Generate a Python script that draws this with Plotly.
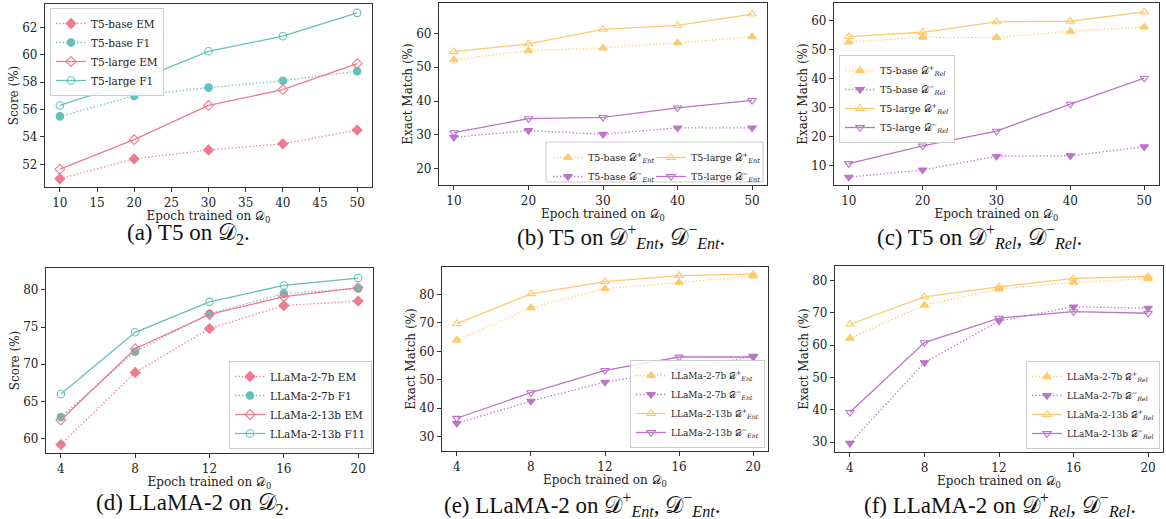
import plotly.graph_objects as go

W, H = 1166, 519

# ---------------- data ----------------
t5_epochs = [10, 20, 30, 40, 50]
llama_epochs = [4, 8, 12, 16, 20]

# (a) T5 on D2
t5_base_em = [50.95, 52.4, 53.05, 53.5, 54.5]
t5_base_f1 = [55.5, 57.0, 57.6, 58.1, 58.8]
t5_large_em = [51.65, 53.8, 56.3, 57.45, 59.35]
t5_large_f1 = [56.3, 58.05, 60.25, 61.35, 63.05]

# (b) T5 on D_Ent
t5_base_ent_pos = [52.2, 54.9, 55.7, 57.2, 59.0]
t5_base_ent_neg = [29.3, 31.3, 30.2, 32.1, 32.1]
t5_large_ent_pos = [54.6, 56.9, 61.2, 62.4, 65.7]
t5_large_ent_neg = [30.7, 34.8, 35.2, 38.0, 40.2]

# (c) T5 on D_Rel
t5_base_rel_pos = [52.7, 54.4, 54.3, 56.4, 57.9]
t5_base_rel_neg = [6.1, 8.6, 13.3, 13.5, 16.6]
t5_large_rel_pos = [54.6, 56.1, 59.7, 59.9, 63.1]
t5_large_rel_neg = [10.8, 16.9, 22.0, 31.3, 40.3]

# (d) LLaMA-2 on D2
ll7_em = [59.2, 68.9, 74.8, 77.9, 78.5]
ll7_f1 = [62.9, 71.7, 76.8, 79.5, 80.2]
ll13_em = [62.5, 72.1, 76.7, 79.1, 80.3]
ll13_f1 = [66.0, 74.3, 78.4, 80.6, 81.6]

# (e) LLaMA-2 on D_Ent
ll7_ent_pos = [63.9, 75.3, 82.0, 84.2, 86.4]
ll7_ent_neg = [34.7, 42.5, 49.2, 53.1, 58.3]
ll13_ent_pos = [69.7, 80.2, 84.5, 86.6, 87.1]
ll13_ent_neg = [36.5, 45.5, 53.3, 58.0, 58.0]

# (f) LLaMA-2 on D_Rel
ll7_rel_pos = [62.1, 72.4, 77.4, 79.5, 80.6]
ll7_rel_neg = [29.6, 54.6, 67.5, 71.9, 71.5]
ll13_rel_pos = [66.5, 75.0, 78.1, 80.7, 81.3]
ll13_rel_neg = [39.2, 60.8, 68.4, 70.4, 69.9]

PINK = "#EF7488"
TEAL = "#5CBDB9"
ORANGE = "#FFC766"
PURPLE = "#B96EC6"

D = "\U0001D49F"  # script D

def lab(base, sign, sub):
    return f"{base} {D}<sup>{sign}</sup><sub><i>{sub}</i></sub>"

fig = go.Figure()

# panel pixel boxes: (x0, x1, y0, y1) in px from top-left
boxes = {
    1: (45, 372, 4, 187),
    2: (439, 767, 3, 185),
    3: (834, 1159, 3, 185),
    4: (46, 373, 268, 453),
    5: (442, 768, 267, 451),
    6: (835, 1163, 266, 452),
}
ranges = {
    1: ([8, 52], [50.35, 63.7]),
    2: ([8, 52], [15.2, 69.0]),
    3: ([8, 52], [3.4, 66.2]),
    4: ([3.2, 20.8], [58.07, 82.95]),
    5: ([3.2, 20.8], [25.0, 89.6]),
    6: ([3.2, 20.8], [26.9, 84.55]),
}
ytitles = {1: "Score (%)", 2: "Exact Match (%)", 3: "Exact Match (%)",
           4: "Score (%)", 5: "Exact Match (%)", 6: "Exact Match (%)"}
ytickvals = {
    1: [52, 54, 56, 58, 60, 62],
    2: [20, 30, 40, 50, 60],
    3: [10, 20, 30, 40, 50, 60],
    4: [60, 65, 70, 75, 80],
    5: [30, 40, 50, 60, 70, 80],
    6: [30, 40, 50, 60, 70, 80],
}
xtickvals = {1: [10, 15, 20, 25, 30, 35, 40, 45, 50], 2: [10, 20, 30, 40, 50],
             3: [10, 20, 30, 40, 50], 4: [4, 8, 12, 16, 20],
             5: [4, 8, 12, 16, 20], 6: [4, 8, 12, 16, 20]}


def add(panel, x, y, name, color, symbol, dotted, legend):
    sfx = "" if panel == 1 else str(panel)
    fig.add_trace(go.Scatter(
        x=x, y=y, name=name, mode="lines+markers",
        xaxis="x" + sfx, yaxis="y" + sfx, legend=legend,
        line=dict(color=color, width=1.3, dash="1.3px,2.2px" if dotted else "solid"),
        marker=dict(symbol=symbol, size=7.5,
                    color=color, line=dict(color=color, width=1.1)),
        opacity=0.95,
    ))

add(1, t5_epochs, t5_base_em, "T5-base EM", PINK, "diamond", True, "legend")
add(1, t5_epochs, t5_base_f1, "T5-base F1", TEAL, "circle", True, "legend")
add(1, t5_epochs, t5_large_em, "T5-large EM", PINK, "diamond-open", False, "legend")
add(1, t5_epochs, t5_large_f1, "T5-large F1", TEAL, "circle-open", False, "legend")

add(2, t5_epochs, t5_base_ent_pos, lab("T5-base", "+", "Ent"), ORANGE, "triangle-up", True, "legend2")
add(2, t5_epochs, t5_base_ent_neg, lab("T5-base", "−", "Ent"), PURPLE, "triangle-down", True, "legend2")
add(2, t5_epochs, t5_large_ent_pos, lab("T5-large", "+", "Ent"), ORANGE, "triangle-up-open", False, "legend3")
add(2, t5_epochs, t5_large_ent_neg, lab("T5-large", "−", "Ent"), PURPLE, "triangle-down-open", False, "legend3")

add(3, t5_epochs, t5_base_rel_pos, lab("T5-base", "+", "Rel"), ORANGE, "triangle-up", True, "legend4")
add(3, t5_epochs, t5_base_rel_neg, lab("T5-base", "−", "Rel"), PURPLE, "triangle-down", True, "legend4")
add(3, t5_epochs, t5_large_rel_pos, lab("T5-large", "+", "Rel"), ORANGE, "triangle-up-open", False, "legend4")
add(3, t5_epochs, t5_large_rel_neg, lab("T5-large", "−", "Rel"), PURPLE, "triangle-down-open", False, "legend4")

add(4, llama_epochs, ll7_em, "LLaMa-2-7b EM", PINK, "diamond", True, "legend5")
add(4, llama_epochs, ll7_f1, "LLaMa-2-7b F1", TEAL, "circle", True, "legend5")
add(4, llama_epochs, ll13_em, "LLaMa-2-13b EM", PINK, "diamond-open", False, "legend5")
add(4, llama_epochs, ll13_f1, "LLaMa-2-13b F11", TEAL, "circle-open", False, "legend5")

add(5, llama_epochs, ll7_ent_pos, lab("LLaMa-2-7b", "+", "Ent"), ORANGE, "triangle-up", True, "legend6")
add(5, llama_epochs, ll7_ent_neg, lab("LLaMa-2-7b", "−", "Ent"), PURPLE, "triangle-down", True, "legend6")
add(5, llama_epochs, ll13_ent_pos, lab("LLaMa-2-13b", "+", "Ent"), ORANGE, "triangle-up-open", False, "legend6")
add(5, llama_epochs, ll13_ent_neg, lab("LLaMa-2-13b", "−", "Ent"), PURPLE, "triangle-down-open", False, "legend6")

add(6, llama_epochs, ll7_rel_pos, lab("LLaMa-2-7b", "+", "Rel"), ORANGE, "triangle-up", True, "legend7")
add(6, llama_epochs, ll7_rel_neg, lab("LLaMa-2-7b", "−", "Rel"), PURPLE, "triangle-down", True, "legend7")
add(6, llama_epochs, ll13_rel_pos, lab("LLaMa-2-13b", "+", "Rel"), ORANGE, "triangle-up-open", False, "legend7")
add(6, llama_epochs, ll13_rel_neg, lab("LLaMa-2-13b", "−", "Rel"), PURPLE, "triangle-down-open", False, "legend7")

TICKFONT = dict(family="DejaVu Serif", size=12, color="#222")
TITLEFONT = dict(family="DejaVu Serif", size=12, color="#222")

layout = dict(width=W, height=H, margin=dict(l=0, r=0, t=0, b=0, autoexpand=False),
              paper_bgcolor="white", plot_bgcolor="white", showlegend=True)

for p, (x0, x1, y0, y1) in boxes.items():
    sfx = "" if p == 1 else str(p)
    xr, yr = ranges[p]
    layout["xaxis" + sfx] = dict(
        domain=[x0 / W, x1 / W], anchor="y" + sfx, range=xr, automargin=False,
        tickvals=xtickvals[p], showgrid=False, zeroline=False,
        showline=True, mirror=True, linecolor="#333", linewidth=1.2,
        ticks="outside", ticklen=4, tickcolor="#333", tickfont=TICKFONT,
        title=dict(text=f"Epoch trained on {D}<sub>0</sub>", font=TITLEFONT, standoff=3),
    )
    layout["yaxis" + sfx] = dict(
        domain=[1 - y1 / H, 1 - y0 / H], anchor="x" + sfx, range=yr, automargin=False,
        tickvals=ytickvals[p], showgrid=False, zeroline=False,
        showline=True, mirror=True, linecolor="#333", linewidth=1.2,
        ticks="outside", ticklen=4, tickcolor="#333", tickfont=TICKFONT,
        title=dict(text=ytitles[p], font=TITLEFONT, standoff=1),
    )

def leg(xpx, ypx, size, border=True, xanchor="left", yanchor="top"):
    return dict(x=xpx / W, y=1 - ypx / H, xanchor=xanchor, yanchor=yanchor,
                font=dict(family="DejaVu Serif", size=size, color="#222"),
                bgcolor="rgba(255,255,255,0.85)" if border else "rgba(0,0,0,0)",
                bordercolor="#cccccc", borderwidth=1 if border else 0,
                tracegroupgap=0, itemwidth=30)

layout["legend"] = leg(50, 8, 10.5)
layout["legend2"] = leg(548, 143, 9.5, border=False)
layout["legend3"] = leg(651, 143, 9.5, border=False)
layout["legend4"] = leg(839, 55, 9.5)
layout["legend5"] = leg(372, 449, 10.5, xanchor="right", yanchor="bottom")
layout["legend6"] = leg(765, 448, 9, xanchor="right", yanchor="bottom")
layout["legend7"] = leg(1160, 449, 9, xanchor="right", yanchor="bottom")

layout["shapes"] = [dict(type="rect", xref="paper", yref="paper",
                         x0=546 / W, x1=763 / W, y0=1 - 182 / H, y1=1 - 142 / H,
                         line=dict(color="#cccccc", width=1),
                         fillcolor="rgba(255,255,255,0.85)", layer="below")]

captions = [
    (188, 234, f"(a) T5 on {D}<sub>2</sub>."),
    (621, 237, f"(b) T5 on {D}<sup>+</sup><sub><i>Ent</i></sub>, {D}<sup>−</sup><sub><i>Ent</i></sub>."),
    (979, 237, f"(c) T5 on {D}<sup>+</sup><sub><i>Rel</i></sub>, {D}<sup>−</sup><sub><i>Rel</i></sub>."),
    (192, 504, f"(d) LLaMA-2 on {D}<sub>2</sub>."),
    (582, 504, f"(e) LLaMA-2 on {D}<sup>+</sup><sub><i>Ent</i></sub>, {D}<sup>−</sup><sub><i>Ent</i></sub>."),
    (1000, 504, f"(f) LLaMA-2 on {D}<sup>+</sup><sub><i>Rel</i></sub>, {D}<sup>−</sup><sub><i>Rel</i></sub>."),
]
layout["annotations"] = [
    dict(x=cx / W, y=1 - cy / H, xref="paper", yref="paper", text=t,
         showarrow=False, xanchor="center", yanchor="middle",
         font=dict(family="Liberation Serif", size=23, color="#111"))
    for cx, cy, t in captions
]

fig.update_layout(**layout)
fig.write_html("out.html", config={"displayModeBar": False},
               post_script="document.body.style.margin='0';document.body.style.overflow='hidden';")
